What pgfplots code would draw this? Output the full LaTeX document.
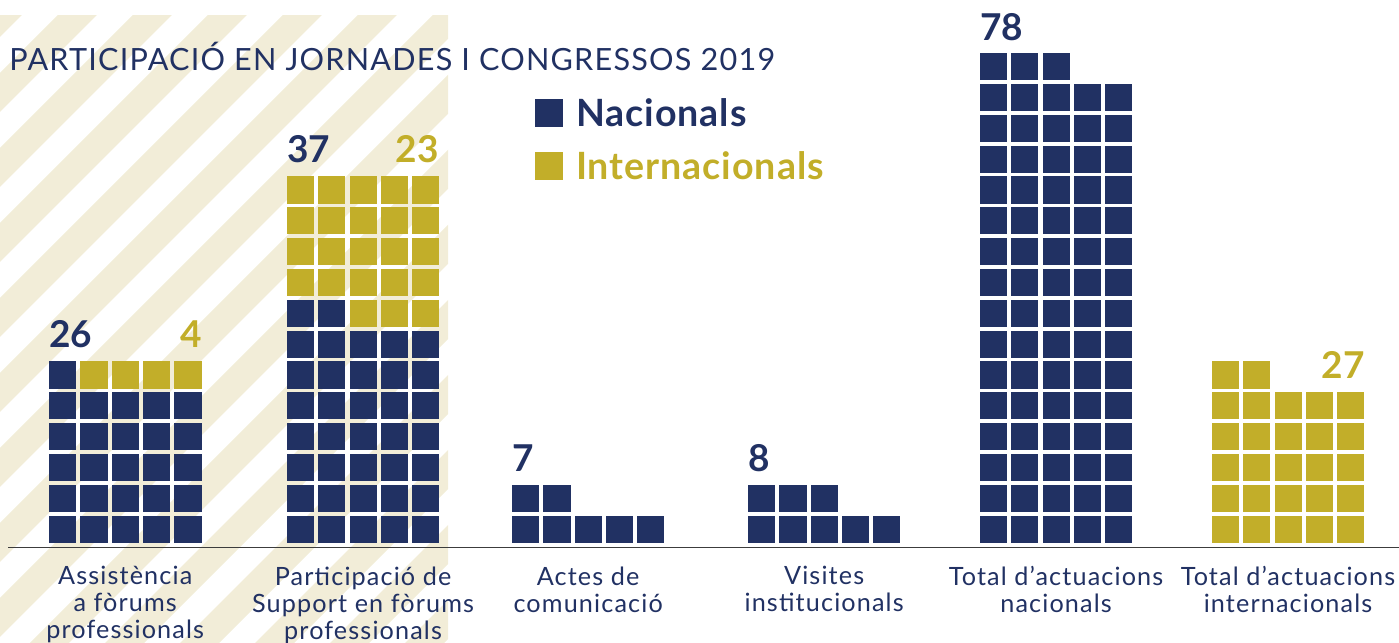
\documentclass[border=0pt]{standalone}
\usepackage{fontspec}
\setmainfont{Lato}
\newfontfamily\titlefont[LetterSpace=4]{Lato}
\newfontfamily\labelfont[LetterSpace=4.5]{Lato}
\newfontfamily\legfont[LetterSpace=2.5]{Lato}
\usepackage{pgfplots}
\pgfplotsset{compat=1.18}
\definecolor{cnavy}{HTML}{213163}
\definecolor{cgold}{HTML}{C2AE29}
\definecolor{cbeige}{HTML}{F2EDD8}
\newcommand\numfont{\bfseries\fontsize{18.5}{20}\selectfont}
\begin{document}
\begin{tikzpicture}
% decorative diagonal stripes (background)
\begin{scope}
\clip (0pt,0pt) rectangle (224pt,313.5pt);
\foreach \n in {-3,...,12}{
  \pgfmathsetmacro\a{-210+37.5*\n}
  \fill[cbeige] (\a pt-20pt,-20pt) -- (\a pt+380pt,380pt) -- (\a pt+399.5pt,380pt) -- (\a pt-0.5pt,-20pt) -- cycle;
}
\end{scope}
\begin{axis}[
  scale only axis, width=699.5pt, height=321.5pt,
  xmin=0, xmax=44.696, ymin=-3.689, ymax=17.154,
  axis line style={draw=none},
  major tick style={draw=none},
  ytick=\empty,
  xtick={4.00,11.60,18.79,26.33,33.74,41.15},
  xticklabels={{Assistència\\a fòrums\\professionals},{Participació de\\Support en fòrums\\professionals},{Actes de\\comunicació},{Visites\\institucionals},{Total d’actuacions\\nacionals},{Total d’actuacions\\internacionals}},
  xticklabel style={align=center, anchor=north, inner sep=0pt, yshift=38.45pt, text=cnavy, font=\labelfont\fontsize{12.6}{13.5}\selectfont, execute at begin node=\strut},
  clip=false,
  legend style={at={(axis cs:17.09,13.977)}, anchor=north west, draw=none, fill=none, inner sep=0pt, column sep=6.5pt, row sep=11pt, font=\legfont\bfseries\fontsize{18.8}{20}\selectfont, cells={anchor=base west}, nodes={inner sep=0pt}},
  legend image code/.code={\fill[#1] (0pt,0pt) rectangle (13.5pt,13.5pt);},
  cell/.style={only marks, mark=square*, mark size=6.55pt, line width=0.4pt},
]
% Group 1: Assistencia a forums professionals (26 nacionals, 4 internacionals)
\addplot[cell, color=cnavy, x filter/.expression={x+2.00}] coordinates {
(0,0)(1,0)(2,0)(3,0)(4,0)
(0,1)(1,1)(2,1)(3,1)(4,1)
(0,2)(1,2)(2,2)(3,2)(4,2)
(0,3)(1,3)(2,3)(3,3)(4,3)
(0,4)(1,4)(2,4)(3,4)(4,4)
(0,5)};
\addlegendentry{\textcolor{cnavy}{Nacionals}}
\addplot[cell, color=cgold, x filter/.expression={x+2.00}] coordinates {
(1,5)(2,5)(3,5)(4,5)};
\addlegendentry{\textcolor{cgold}{Internacionals}}
% Group 2: 37 nacionals, 23 internacionals
\addplot[cell, color=cnavy, forget plot, x filter/.expression={x+9.60}] coordinates {
(0,0)(1,0)(2,0)(3,0)(4,0)
(0,1)(1,1)(2,1)(3,1)(4,1)
(0,2)(1,2)(2,2)(3,2)(4,2)
(0,3)(1,3)(2,3)(3,3)(4,3)
(0,4)(1,4)(2,4)(3,4)(4,4)
(0,5)(1,5)(2,5)(3,5)(4,5)
(0,6)(1,6)(2,6)(3,6)(4,6)
(0,7)(1,7)};
\addplot[cell, color=cgold, forget plot, x filter/.expression={x+9.60}] coordinates {
(2,7)(3,7)(4,7)
(0,8)(1,8)(2,8)(3,8)(4,8)
(0,9)(1,9)(2,9)(3,9)(4,9)
(0,10)(1,10)(2,10)(3,10)(4,10)
(0,11)(1,11)(2,11)(3,11)(4,11)};
% Group 3: 7
\addplot[cell, color=cnavy, forget plot, x filter/.expression={x+16.79}] coordinates {
(0,0)(1,0)(2,0)(3,0)(4,0)
(0,1)(1,1)};
% Group 4: 8
\addplot[cell, color=cnavy, forget plot, x filter/.expression={x+24.33}] coordinates {
(0,0)(1,0)(2,0)(3,0)(4,0)
(0,1)(1,1)(2,1)};
% Group 5: 78
\addplot[cell, color=cnavy, forget plot, x filter/.expression={x+31.74}] coordinates {
(0,0)(1,0)(2,0)(3,0)(4,0)
(0,1)(1,1)(2,1)(3,1)(4,1)
(0,2)(1,2)(2,2)(3,2)(4,2)
(0,3)(1,3)(2,3)(3,3)(4,3)
(0,4)(1,4)(2,4)(3,4)(4,4)
(0,5)(1,5)(2,5)(3,5)(4,5)
(0,6)(1,6)(2,6)(3,6)(4,6)
(0,7)(1,7)(2,7)(3,7)(4,7)
(0,8)(1,8)(2,8)(3,8)(4,8)
(0,9)(1,9)(2,9)(3,9)(4,9)
(0,10)(1,10)(2,10)(3,10)(4,10)
(0,11)(1,11)(2,11)(3,11)(4,11)
(0,12)(1,12)(2,12)(3,12)(4,12)
(0,13)(1,13)(2,13)(3,13)(4,13)
(0,14)(1,14)(2,14)(3,14)(4,14)
(0,15)(1,15)(2,15)};
% Group 6: 27
\addplot[cell, color=cgold, forget plot, x filter/.expression={x+39.15}] coordinates {
(0,0)(1,0)(2,0)(3,0)(4,0)
(0,1)(1,1)(2,1)(3,1)(4,1)
(0,2)(1,2)(2,2)(3,2)(4,2)
(0,3)(1,3)(2,3)(3,3)(4,3)
(0,4)(1,4)(2,4)(3,4)(4,4)
(0,5)(1,5)};
% value labels
\node[anchor=base west, inner sep=0pt, text=cnavy, font=\numfont] at (axis cs:1.565,5.88) {26};
\node[anchor=base east, inner sep=0pt, text=cgold, font=\numfont] at (axis cs:6.454,5.88) {4};
\node[anchor=base west, inner sep=0pt, text=cnavy, font=\numfont] at (axis cs:9.169,11.90) {37};
\node[anchor=base east, inner sep=0pt, text=cgold, font=\numfont] at (axis cs:14.026,11.90) {23};
\node[anchor=base west, inner sep=0pt, text=cnavy, font=\numfont] at (axis cs:16.358,1.886) {7};
\node[anchor=base west, inner sep=0pt, text=cnavy, font=\numfont] at (axis cs:23.898,1.886) {8};
\node[anchor=base west, inner sep=0pt, text=cnavy, font=\numfont] at (axis cs:31.31,15.857) {78};
\node[anchor=base east, inner sep=0pt, text=cgold, font=\numfont] at (axis cs:43.61,4.90) {27};
% baseline
\draw[color={rgb,255:red,60;green,60;blue,60}, line width=0.65pt] (axis cs:0.256,-0.593) -- (axis cs:44.696,-0.593);
\end{axis}
\node[anchor=base west, inner sep=0pt, text=cnavy, font=\titlefont\fontsize{15.3}{18}\selectfont] at (4.5pt,286pt) {PARTICIPACIÓ EN JORNADES I CONGRESSOS 2019};
\pgfresetboundingbox
\useasboundingbox (0pt,0pt) rectangle (699.5pt,321.5pt);
\end{tikzpicture}
\end{document}
